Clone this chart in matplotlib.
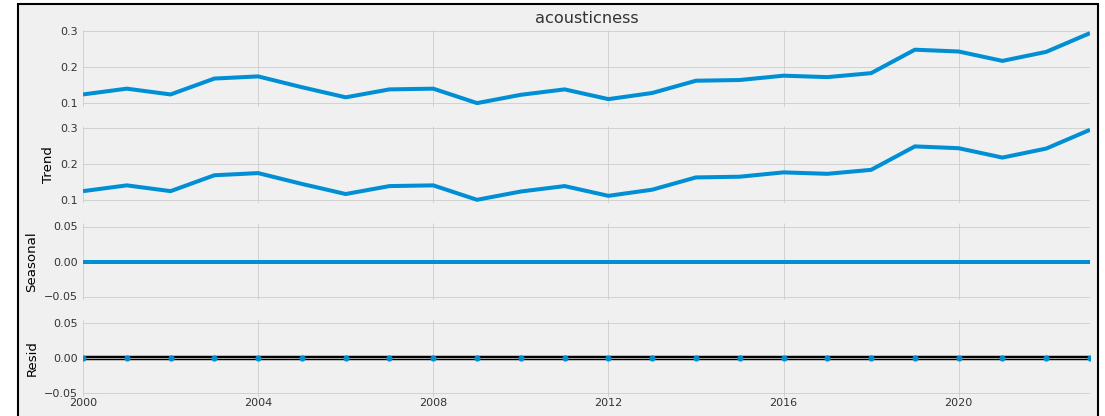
import matplotlib
matplotlib.use("Agg")
import matplotlib.pyplot as plt
from matplotlib.patches import Rectangle

# Yearly mean acousticness and its decomposition (period = 1)
years = list(range(2000, 2024))
observed = [0.125, 0.141, 0.125, 0.169, 0.175, 0.145, 0.117, 0.139, 0.141, 0.101,
            0.124, 0.139, 0.112, 0.129, 0.163, 0.165, 0.177, 0.173, 0.184, 0.249,
            0.244, 0.218, 0.243, 0.295]
trend = [0.125, 0.141, 0.125, 0.169, 0.175, 0.145, 0.117, 0.139, 0.141, 0.101,
         0.124, 0.139, 0.112, 0.129, 0.163, 0.165, 0.177, 0.173, 0.184, 0.249,
         0.244, 0.218, 0.243, 0.295]
seasonal = [0.0] * 24
resid = [0.0] * 24

title = "acousticness"
panel_labels = [None, "Trend", "Seasonal", "Resid"]
year_ticks = [2000, 2004, 2008, 2012, 2016, 2020]
level_ticks = [0.1, 0.2, 0.3]
small_ticks = [-0.05, 0.0, 0.05]

BLUE = "#008fd5"
BG = "#f0f0f0"
s = 0.575  # overall scale of the fivethirtyeight look

plt.rcParams.update({
    "font.family": "DejaVu Sans",
    "font.size": 14 * s,
    "axes.facecolor": BG,
    "axes.edgecolor": BG,
    "axes.grid": True,
    "axes.axisbelow": True,
    "grid.color": "#cbcbcb",
    "grid.linewidth": 1.0 * s,
    "lines.linewidth": 2.9,
    "lines.solid_capstyle": "butt",
    "lines.markersize": 6 * s,
    "xtick.major.size": 0,
    "ytick.major.size": 0,
    "xtick.labelsize": 14 * s,
    "ytick.labelsize": 14 * s,
    "axes.labelsize": 16.8 * s,
    "axes.titlesize": 20.16 * s,
    "text.color": "#333333",
    "xtick.color": "#333333",
    "ytick.color": "#333333",
})

W, H = 1105, 416
fig = plt.figure(figsize=(W / 100, H / 100), dpi=100, facecolor="white")

# framed figure area
frame = Rectangle((18 / W, -0.1), 1080 / W, 1.1 - 4 / H,
                  transform=fig.transFigure, facecolor=BG,
                  edgecolor="black", linewidth=1.5, zorder=0)
fig.add_artist(frame)

left, right = 83, 1090
top0, pitch, height = 29.6, 96.7, 77.0

axes = []
for i in range(4):
    top = top0 + i * pitch
    rect = [left / W, 1 - (top + height) / H, (right - left) / W, height / H]
    ax = fig.add_axes(rect, sharex=axes[0] if axes else None)
    for sp in ax.spines.values():
        sp.set_visible(False)
    axes.append(ax)

series = [observed, trend, seasonal, resid]
for i, (ax, vals) in enumerate(zip(axes, series)):
    if i < 3:
        ax.plot(years, vals, color=BLUE)
    else:
        ax.plot(years, vals, color=BLUE, marker="o", linestyle="none")
        ax.plot([years[0], years[-1]], [0, 0], color="#000000", zorder=-3,
                linewidth=3.2)
    if i == 0:
        ax.set_title(title, pad=5)
    else:
        ax.set_ylabel(panel_labels[i])
    if i < 2:
        ax.set_yticks(level_ticks)
    else:
        ax.set_yticks(small_ticks)
        ax.set_ylim(-0.055, 0.055)
    if i < 3:
        ax.tick_params(axis="x", labelbottom=False)

axes[0].set_xlim(years[0], years[-1])
axes[-1].set_xticks(year_ticks)
axes[-1].set_xticklabels([str(y) for y in year_ticks])
axes[-1].tick_params(axis="x", pad=1)

fig.savefig("out.png", dpi=100, facecolor="white")
